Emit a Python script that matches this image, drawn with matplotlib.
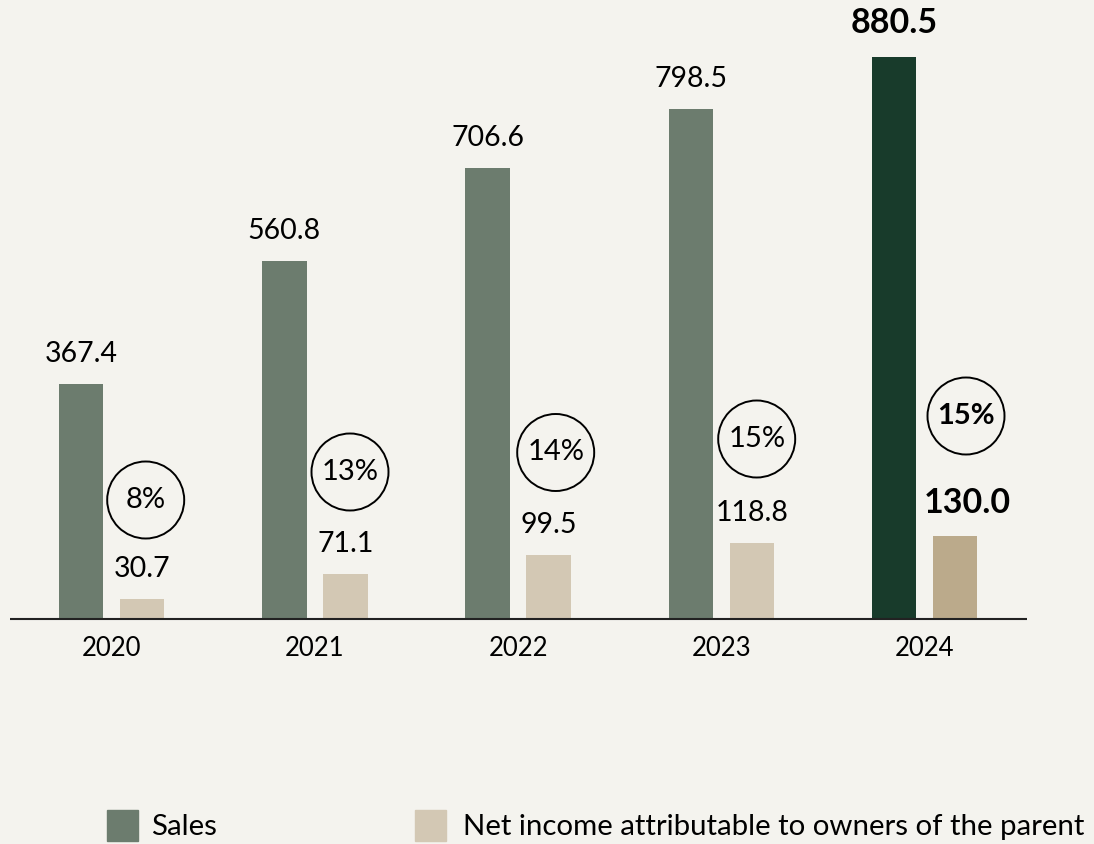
import matplotlib
matplotlib.use("Agg")
import matplotlib.pyplot as plt
from matplotlib.patches import Ellipse, Rectangle

plt.rcParams['font.family'] = ['Lato', 'DejaVu Sans']

# Data
years = ["2020", "2021", "2022", "2023", "2024"]
sales = [367.4, 560.8, 706.6, 798.5, 880.5]
net_income = [30.7, 71.1, 99.5, 118.8, 130.0]
margins = ["8%", "13%", "14%", "15%", "15%"]
legend_labels = ["Sales", "Net income attributable to owners of the parent"]

# Styling
BG = "#F4F3EE"
SALES_C = "#6C7C6E"
NET_C = "#D3C8B4"
SALES_HL = "#183B2B"
NET_HL = "#BBAA8B"

W, H = 1094, 844
fig = plt.figure(figsize=(W / 100, H / 100), dpi=100, facecolor=BG)
ax = fig.add_axes([0, 0, 1, 1])
ax.set_facecolor(BG)
ax.axis("off")

# pixel geometry -> data limits
x0_px, step_px = 81.0, 203.3
base_px, ppu = 619.0, 0.6383
ax.set_xlim(-x0_px / step_px, (W - x0_px) / step_px)
ax.set_ylim((base_px - H) / ppu, base_px / ppu)

bar_w = 44.5 / step_px
net_off = 61.0 / step_px
n = len(years)
xs = list(range(n))
last = n - 1

sales_colors = [SALES_HL if i == last else SALES_C for i in xs]
net_colors = [NET_HL if i == last else NET_C for i in xs]
ax.bar(xs, sales, width=bar_w, color=sales_colors, zorder=2)
ax.bar([x + net_off for x in xs], net_income, width=bar_w, color=net_colors, zorder=2)

# baseline
ax.hlines(0, (10 - x0_px) / step_px, (1027 - x0_px) / step_px,
          color="#222222", lw=1.5, zorder=3)

pad_s = 30 / ppu
pad_b = 34 / ppu
for i in xs:
    bold = i == last
    pad = pad_b if bold else pad_s
    fw = "bold" if bold else "normal"
    fs = 24.5 if bold else 20.5
    shift = 12 / step_px if bold else 0
    ax.text(i, sales[i] + pad, f"{sales[i]:.1f}", ha="center", va="center",
            fontsize=fs, fontweight=fw, color="black")
    ax.text(i + net_off + shift, net_income[i] + pad - (1 / ppu if bold else 0),
            f"{net_income[i]:.1f}", ha="center", va="center", fontsize=fs,
            fontweight=fw, color="black")
    ax.text(i + net_off / 2, -29 / ppu, years[i], ha="center", va="center",
            fontsize=18.5, color="black")

# margin circles (pixel centres)
circle_px = [(145.7, 500), (350, 472), (555.7, 452.5), (756.7, 439), (966, 416)]
r_px = 38.5
for i, (cx, cy) in enumerate(circle_px):
    dx = (cx - x0_px) / step_px
    dy = (base_px - cy) / ppu
    ax.add_patch(Ellipse((dx, dy), 2 * r_px / step_px, 2 * r_px / ppu,
                         fill=False, ec="black", lw=1.4, zorder=4))
    ax.text(dx, dy, margins[i], ha="center", va="center", fontsize=21,
            fontweight="bold" if i == last else "normal", color="black", zorder=5)

# legend drawn in figure pixel coordinates
def fx(px):
    return px / W

def fy(py):
    return 1 - py / H

for (sx, tx), col, lab in zip([(107, 151), (415, 463)], [SALES_C, NET_C], legend_labels):
    fig.patches.append(Rectangle((fx(sx), fy(841)), 31 / W, 31 / H,
                                 transform=fig.transFigure, color=col))
    fig.text(fx(tx), fy(827), lab, ha="left", va="center", fontsize=21.2, color="black")

fig.savefig("out.png", dpi=100, facecolor=BG)
